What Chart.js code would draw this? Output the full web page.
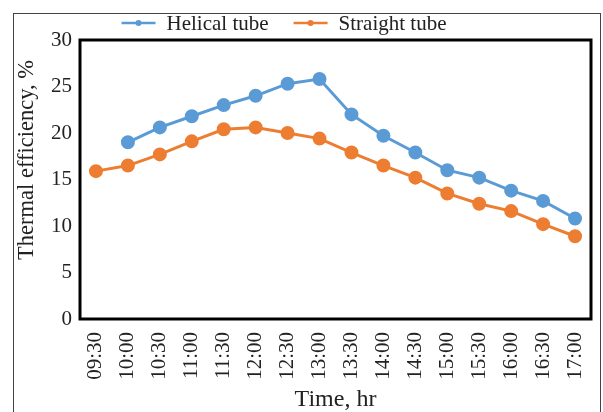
<!DOCTYPE html>
<html>
<head>
<meta charset="utf-8">
<script src="https://cdn.jsdelivr.net/npm/chart.js@4.4.1/dist/chart.umd.min.js"></script>
<style>
    html, body { margin: 0; padding: 0; background: #fff; }
    #wrap { position: relative; width: 603px; height: 412px; overflow: hidden; }
    #frame { position: absolute; left: 13px; top: 13px; width: 588px; height: 420px; border: 1px solid #444; box-sizing: border-box; }
    canvas { position: absolute; left: 0; top: 0; }
</style>
</head>
<body>
<div id="wrap">
    <div id="frame"></div>
    <canvas id="chart" width="603" height="412"></canvas>
</div>
<script>
// Time of day
const times = ['09:30', '10:00', '10:30', '11:00', '11:30', '12:00', '12:30', '13:00',
    '13:30', '14:00', '14:30', '15:00', '15:30', '16:00', '16:30', '17:00'];

// Thermal efficiency, %
const helical = [null, 19.0, 20.6, 21.8, 23.0, 24.0, 25.3, 25.8,
    22.0, 19.7, 17.9, 16.0, 15.2, 13.8, 12.7, 10.8];
const straight = [15.9, 16.5, 17.7, 19.1, 20.4, 20.6, 20.0, 19.4,
    17.9, 16.5, 15.2, 13.5, 12.4, 11.6, 10.2, 8.9];

const yTicks = [0, 5, 10, 15, 20, 25, 30];
const yTitle = 'Thermal efficiency, %';

const blue = '#5b9bd5';
const orange = '#ed7d31';
const textColor = '#222';
const serif = '"Liberation Serif", "Times New Roman", serif';

// thick black frame round the plot area
const plotFrame = {
    id: 'plotFrame',
    afterDraw(chart) {
        const a = chart.chartArea;
        const ctx = chart.ctx;
        ctx.save();
        ctx.strokeStyle = '#000';
        ctx.lineWidth = 3;
        ctx.strokeRect(a.left, a.top, a.right - a.left, a.bottom - a.top);
        ctx.restore();
    }
};

// y title sits a little above the middle of the axis, as in the original
const sideTitle = {
    id: 'sideTitle',
    afterDraw(chart) {
        const ctx = chart.ctx;
        ctx.save();
        ctx.translate(27, 160);
        ctx.rotate(-Math.PI / 2);
        ctx.font = '22.5px ' + serif;
        ctx.fillStyle = textColor;
        ctx.textAlign = 'center';
        ctx.textBaseline = 'middle';
        ctx.fillText(yTitle, 0, 0);
        ctx.restore();
    }
};

// legend above the plot: line with a dot, then the label
const topLegend = {
    id: 'topLegend',
    afterDraw(chart) {
        const ctx = chart.ctx;
        const lineLen = 34, gapText = 11, gapItem = 25, y = 23, centre = 284;
        ctx.save();
        ctx.font = '21px ' + serif;
        ctx.textBaseline = 'middle';
        const sets = chart.data.datasets;
        let total = 0;
        sets.forEach((ds, i) => {
            total += lineLen + gapText + ctx.measureText(ds.label).width + (i ? gapItem : 0);
        });
        let x = centre - total / 2;
        sets.forEach((ds, i) => {
            if (i) x += gapItem;
            ctx.strokeStyle = ds.borderColor;
            ctx.lineWidth = 2.5;
            ctx.beginPath();
            ctx.moveTo(x, y);
            ctx.lineTo(x + lineLen, y);
            ctx.stroke();
            ctx.fillStyle = ds.borderColor;
            ctx.beginPath();
            ctx.arc(x + lineLen / 2, y, 3, 0, Math.PI * 2);
            ctx.fill();
            x += lineLen + gapText;
            ctx.fillStyle = textColor;
            ctx.fillText(ds.label, x, y + 1);
            x += ctx.measureText(ds.label).width;
        });
        ctx.restore();
    }
};

const ctx = document.getElementById('chart').getContext('2d');
new Chart(ctx, {
    type: 'line',
    data: {
        labels: times,
        datasets: [{
            label: 'Helical tube',
            data: helical,
            borderColor: blue,
            backgroundColor: blue,
            borderWidth: 3,
            pointRadius: 5.5,
            pointHoverRadius: 5.5,
            tension: 0
        }, {
            label: 'Straight tube',
            data: straight,
            borderColor: orange,
            backgroundColor: orange,
            borderWidth: 3,
            pointRadius: 5.5,
            pointHoverRadius: 5.5,
            tension: 0
        }]
    },
    options: {
        responsive: false,
        animation: false,
        layout: {
            padding: { left: 12, right: 12, top: 40, bottom: 0 }
        },
        plugins: {
            legend: { display: false },
            tooltip: { enabled: false }
        },
        scales: {
            x: {
                offset: true,
                afterFit(scale) {
                    scale.height = 93;
                    scale.paddingLeft = 0;
                    scale.paddingRight = 0;
                },
                grid: { display: false, drawTicks: false },
                border: { display: false },
                ticks: {
                    minRotation: 90,
                    maxRotation: 90,
                    autoSkip: false,
                    padding: 13,
                    color: textColor,
                    font: { family: serif, size: 21 }
                },
                title: {
                    display: true,
                    text: 'Time, hr',
                    color: textColor,
                    padding: { top: 0, bottom: 0 },
                    font: { family: serif, size: 24, lineHeight: 1.05 }
                }
            },
            y: {
                min: 0,
                max: 30,
                afterBuildTicks(axis) {
                    axis.ticks = yTicks.map(v => ({ value: v }));
                },
                afterFit(scale) {
                    scale.width = 68;
                },
                grid: { display: false, drawTicks: false },
                border: { display: false },
                ticks: {
                    padding: 8,
                    color: textColor,
                    font: { family: serif, size: 21 }
                },
                title: { display: false }
            }
        }
    },
    plugins: [plotFrame, sideTitle, topLegend]
});
</script>
</body>
</html>
